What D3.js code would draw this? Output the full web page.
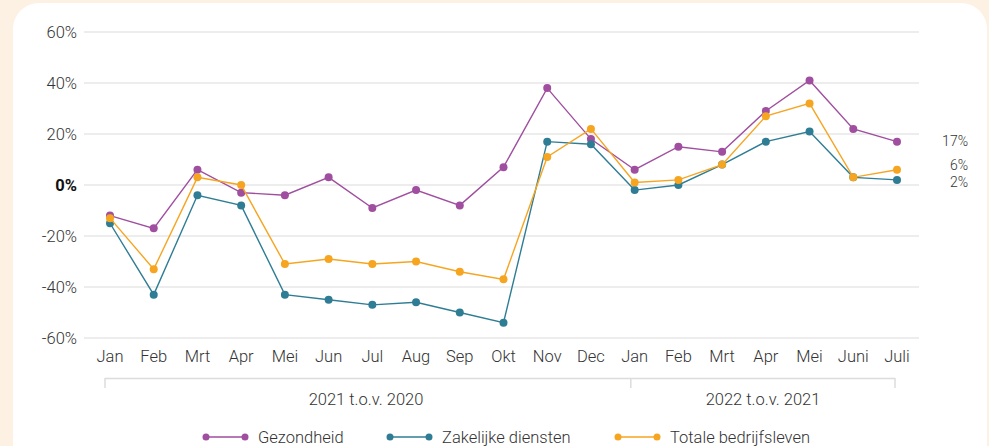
<!DOCTYPE html>
<html>
<head>
<meta charset="utf-8">
<script src="https://d3js.org/d3.v7.min.js"></script>
<style>
  body { margin: 0; background: #fdf1e3; font-family: Roboto, sans-serif; }
  #card { position: absolute; left: 13px; top: 3px; width: 974px; height: 460px;
          background: #fff; border-radius: 26px 26px 0 0; }
  svg { position: absolute; left: 0; top: 0; }
  text { fill: #333; font-weight: 300; }
</style>
</head>
<body>
<div id="card"></div>
<svg id="chart" width="989" height="446"></svg>
<script>
const months = ["Jan","Feb","Mrt","Apr","Mei","Jun","Jul","Aug","Sep","Okt","Nov","Dec",
                "Jan","Feb","Mrt","Apr","Mei","Juni","Juli"];
const gezondheid = [-12,-17,6,-3,-4,3,-9,-2,-8,7,38,18,6,15,13,29,41,22,17];
const zakelijk   = [-15,-43,-4,-8,-43,-45,-47,-46,-50,-54,17,16,-2,0,8,17,21,3,2];
const totaal     = [-13,-33,3,0,-31,-29,-31,-30,-34,-37,11,22,1,2,8,27,32,3,6];
const yTicks = [60,40,20,0,-20,-40,-60];
const groups = ["2021 t.o.v. 2020", "2022 t.o.v. 2021"];

const series = [
  {name:"Gezondheid", values:gezondheid, color:"#a04e9f", labelY:141},
  {name:"Zakelijke diensten", values:zakelijk, color:"#2f7d95", labelY:182},
  {name:"Totale bedrijfsleven", values:totaal, color:"#f6a521", labelY:165}
];

const svg = d3.select("#chart");
const x = d3.scalePoint().domain(d3.range(months.length)).range([110, 897]);
const y = d3.scaleLinear().domain([-60, 60]).range([338, 32]);

// grid
svg.append("g").selectAll("line").data(yTicks).join("line")
  .attr("x1", 84).attr("x2", 919)
  .attr("y1", d => y(d)).attr("y2", d => y(d))
  .attr("stroke", "#dcdcdc").attr("stroke-width", 1.2);

svg.append("g").selectAll("text").data(yTicks).join("text")
  .attr("x", 77).attr("y", d => y(d)).attr("dy", "0.35em")
  .attr("text-anchor", "end").style("font-size", "16.5px")
  .style("font-weight", d => d === 0 ? 700 : 300)
  .style("fill", d => d === 0 ? "#111" : "#333")
  .text(d => d + "%");

// x labels
svg.append("g").selectAll("text").data(months).join("text")
  .attr("x", (d, i) => x(i)).attr("y", 362).attr("text-anchor", "middle")
  .style("font-size", "16.5px").text(d => d);

// group brackets
const gb = svg.append("g");
gb.append("line").attr("x1", x(0) - 5).attr("x2", x(18) - 2).attr("y1", 378.5).attr("y2", 378.5)
  .attr("stroke", "#dcdcdc").attr("stroke-width", 1.5);
[x(0) - 5, (x(11) + x(12)) / 2 + 18, x(18) - 2].forEach(v => {
  gb.append("line").attr("x1", v).attr("x2", v).attr("y1", 378).attr("y2", 388)
    .attr("stroke", "#dcdcdc").attr("stroke-width", 1.5);
});
gb.selectAll("text").data(groups).join("text")
  .attr("x", (d, i) => i === 0 ? 366 : 763).attr("y", 405).attr("text-anchor", "middle")
  .style("font-size", "16.5px").text(d => d);

// lines
const line = d3.line().x((d, i) => x(i)).y(d => y(d));
series.forEach(s => {
  const g = svg.append("g");
  g.append("path").datum(s.values).attr("d", line)
    .attr("fill", "none").attr("stroke", s.color).attr("stroke-width", 1.4);
  g.selectAll("circle").data(s.values).join("circle")
    .attr("cx", (d, i) => x(i)).attr("cy", d => y(d)).attr("r", 4)
    .attr("fill", s.color);
});

// end labels
series.forEach(s => {
  svg.append("text").attr("x", 968).attr("y", s.labelY).attr("dy", "0.35em")
    .attr("text-anchor", "end").style("font-size", "14px")
    .text(s.values[s.values.length - 1] + "%");
});

// legend
const legX = [206, 390, 618];
series.forEach((s, i) => {
  const g = svg.append("g").attr("transform", `translate(${legX[i]},437)`);
  g.append("line").attr("x1", 0).attr("x2", 39).attr("stroke", s.color).attr("stroke-width", 1.4);
  g.append("circle").attr("cx", 0).attr("r", 3.5).attr("fill", s.color);
  g.append("circle").attr("cx", 39).attr("r", 3.5).attr("fill", s.color);
  g.append("text").attr("x", 52).attr("dy", "0.35em").style("font-size", "16.5px").text(s.name);
});
</script>
</body>
</html>
